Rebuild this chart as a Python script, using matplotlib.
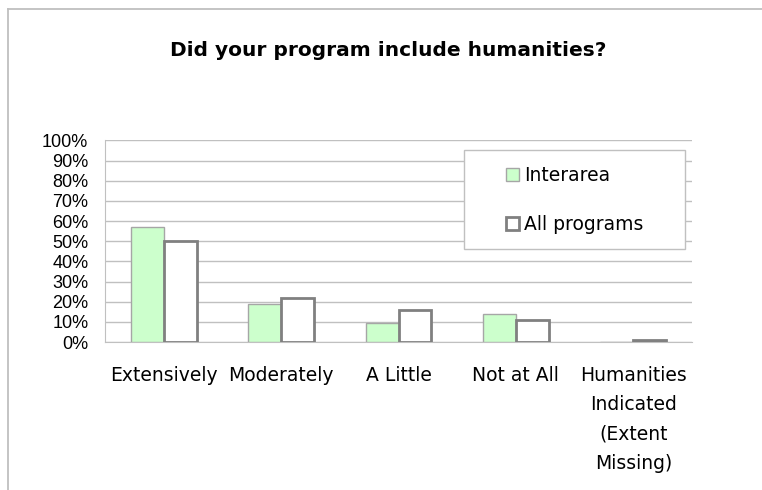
import matplotlib
matplotlib.use('Agg')
import matplotlib.pyplot as plt
from matplotlib.patches import Rectangle, Patch
from matplotlib.lines import Line2D
import numpy as np

# datos
categorias = ['Extensively', 'Moderately', 'A Little', 'Not at All',
              'Humanities\nIndicated\n(Extent\nMissing)']
interarea = [57, 19, 9.5, 14, 0]
todos = [50, 22, 16, 11, 1]
series = ['Interarea', 'All programs']
y_ticks = list(range(0, 101, 10))

fig = plt.figure(figsize=(7.62, 4.90), dpi=100)
ax = fig.add_axes([105 / 762, 1 - 342 / 490, 587 / 762, 201.5 / 490])

x = np.arange(len(categorias))
ancho = 0.281
ax.bar(x - ancho / 2, interarea, ancho, color='#ccffcc', edgecolor='#a6a6a6',
       linewidth=1, zorder=3)
ax.bar(x + ancho / 2, todos, ancho, color='white', edgecolor='#808080',
       linewidth=2, zorder=3)

ax.set_xlim(-0.5, len(categorias) - 0.5)
ax.set_ylim(0, 100)
ax.set_yticks(y_ticks)
ax.set_yticklabels([f'{t}%' for t in y_ticks], family='Liberation Sans', fontsize=13)
ax.set_xticks(x)
ax.set_xticklabels(categorias, family='DejaVu Sans', fontsize=13.5, linespacing=1.7)
ax.tick_params(axis='x', length=0, pad=17)
ax.tick_params(axis='y', length=0, pad=12)
ax.grid(axis='y', color='#c0c0c0', linewidth=1, zorder=0)
for s in ['top', 'right']:
    ax.spines[s].set_visible(False)
ax.spines['left'].set_color('#c0c0c0')
ax.spines['bottom'].set_color('#c0c0c0')

# caja de la leyenda
caja = Rectangle((0.6116, 0.4615), 0.3764, 0.4915, transform=ax.transAxes,
                 facecolor='white', edgecolor='#c0c0c0', linewidth=1, zorder=4)
ax.add_patch(caja)
manijas = [Patch(facecolor='#ccffcc', edgecolor='#a6a6a6', linewidth=1),
           Patch(facecolor='white', edgecolor='#808080', linewidth=2)]
leg = ax.legend(manijas, series, loc='center', bbox_to_anchor=(0.800, 0.705),
                frameon=False, prop={'family': 'DejaVu Sans', 'size': 13.5},
                handlelength=0.7, handleheight=0.7, handletextpad=0.3,
                labelspacing=1.6)
leg.set_zorder(5)

fig.text(388 / 762, 1 - 50 / 490, 'Did your program include humanities?',
         ha='center', va='center', fontsize=14.5, fontweight='bold',
         family='DejaVu Sans')

# borde del gráfico
fig.add_artist(Line2D([8 / 762, 8 / 762], [0, 1 - 9 / 490], color='#bfbfbf',
                      linewidth=1.3, transform=fig.transFigure))
fig.add_artist(Line2D([8 / 762, 1], [1 - 9 / 490, 1 - 9 / 490], color='#bfbfbf',
                      linewidth=1.3, transform=fig.transFigure))

fig.savefig('out.png', dpi=100)
